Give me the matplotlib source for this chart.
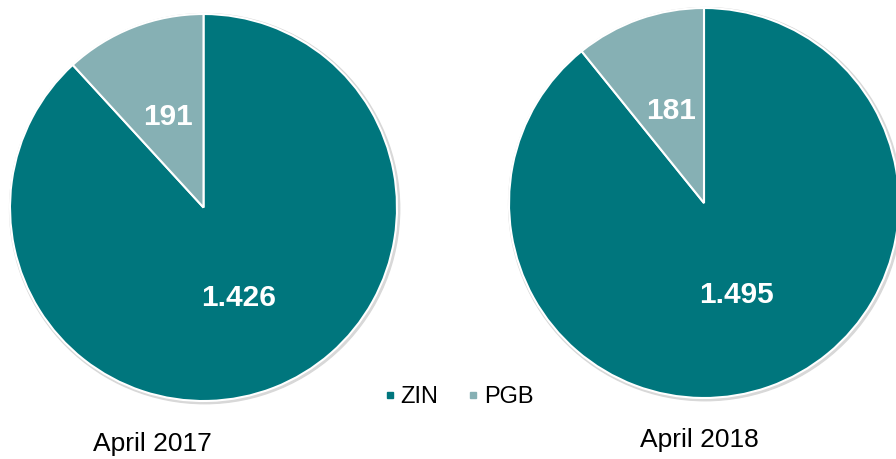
import matplotlib.pyplot as plt
from matplotlib.lines import Line2D

plt.rcParams['font.family'] = ['Liberation Sans', 'DejaVu Sans']

labels = ["ZIN", "PGB"]
years = ["April 2017", "April 2018"]
zin = [1426, 1495]
pgb = [191, 181]
colors = ["#00767D", "#86B0B4"]


def fmt(v):
    return f"{v:,}".replace(",", ".")


fig = plt.figure(figsize=(8.96, 4.59), dpi=100)

# axes boxes in pixels: left, bottom, size
boxes = [(10, 58, 387), (509, 61, 390)]

for i, (x0, y0, s) in enumerate(boxes):
    ax = fig.add_axes([x0 / 896, y0 / 459, s / 896, s / 459])
    vals = [zin[i], pgb[i]]
    wedges, texts, autotexts = ax.pie(
        vals, colors=colors, startangle=90, counterclock=False,
        radius=1, pctdistance=0.5,
        autopct=lambda p, v=vals: fmt(round(p * sum(v) / 100)),
        wedgeprops=dict(edgecolor="white", linewidth=1.5),
        textprops=dict(color="white", fontsize=21.5, fontweight="bold"))
    # faint shadow ring
    ax.add_patch(plt.Circle((0.006, -0.006), 1.008, color="#d8d8d8", zorder=0,
                            clip_on=False))
    ax.set_xlim(-1, 1)
    ax.set_ylim(-1, 1)
    ax.set_aspect("equal")
    ax.axis("off")

fig.text(152 / 896, 1 - 444 / 459, years[0], ha="center", va="center", fontsize=19)
fig.text(699 / 896, 1 - 440 / 459, years[1], ha="center", va="center", fontsize=19)

handles = [Line2D([], [], marker="s", linestyle="", markersize=4.5, color=c) for c in colors]
fig.legend(handles, labels, loc="center", bbox_to_anchor=(458 / 896, 1 - 397 / 459),
           ncol=2, frameon=False, fontsize=17, handletextpad=0.15, columnspacing=1.2,
           handlelength=0.6, borderpad=0)

fig.savefig("out.png", dpi=100)
